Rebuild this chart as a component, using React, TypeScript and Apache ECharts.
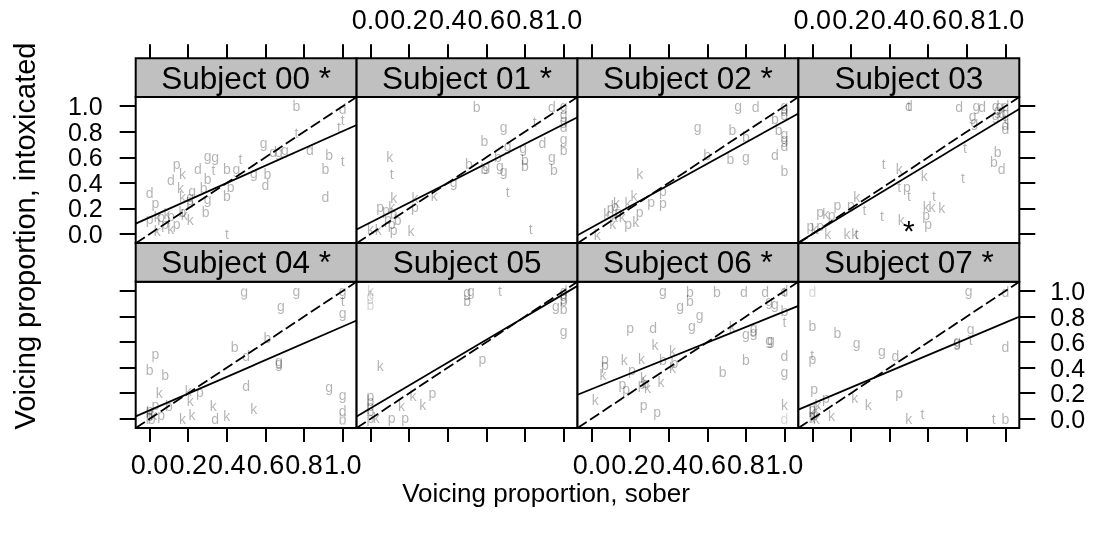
import React, { useEffect, useRef } from "react";
import * as echarts from "echarts";

type Pt = [number, number, string];

const subjectLabels = [
  "Subject 00 *", "Subject 01 *", "Subject 02 *", "Subject 03",
  "Subject 04 *", "Subject 05", "Subject 06 *", "Subject 07 *",
];
const tickValues = [0, 0.2, 0.4, 0.6, 0.8, 1.0];
const intercepts = [0.13, 0.09, 0.05, 0.0, 0.066, 0.083, 0.232, 0.117];
const slopes = [0.674, 0.768, 0.833, 0.913, 0.656, 0.893, 0.608, 0.636];
const xTitle = "Voicing proportion, sober";
const yTitle = "Voicing proportion, intoxicated";

const s00: Pt[] = [
  [0.76,1.00,"b"],[1.00,0.98,"d"],[1.00,0.89,"t"],[0.98,0.84,"t"],[0.76,0.79,"t"],[0.59,0.71,"g"],[0.64,0.64,"d"],[0.67,0.64,"g"],[0.70,0.66,"g"],[0.83,0.66,"d"],[0.93,0.62,"b"],[1.00,0.57,"t"],[0.91,0.51,"b"],[0.91,0.29,"d"],[0.47,0.59,"t"],[0.30,0.61,"g"],[0.34,0.60,"g"],[0.14,0.55,"p"],[0.17,0.47,"k"],[0.25,0.51,"d"],[0.33,0.50,"t"],[0.40,0.51,"b"],[0.45,0.51,"g"],[0.54,0.48,"g"],[0.61,0.47,"b"],[0.60,0.38,"d"],[0.30,0.43,"b"],[0.11,0.42,"d"],[0.16,0.36,"k"],[0.22,0.34,"g"],[0.28,0.36,"b"],[0.17,0.29,"k"],[0.21,0.29,"g"],[0.21,0.24,"b"],[0.42,0.37,"b"],[0.40,0.30,"b"],[0.30,0.27,"g"],[0.29,0.17,"b"],[0.00,0.32,"d"],[0.03,0.24,"p"],[0.00,0.12,"p"],[0.04,0.13,"k"],[0.06,0.13,"p"],[0.09,0.16,"k"],[0.11,0.14,"p"],[0.17,0.17,"b"],[0.14,0.08,"p"],[0.11,0.04,"k"],[0.04,0.02,"k"],[0.21,0.11,"k"],[0.18,0.15,"k"],[0.08,0.08,"p"],[0.40,0.00,"t"],
];
const s01: Pt[] = [
  [0.55,0.99,"b"],[0.94,0.99,"d"],[1.00,1.00,"g"],[1.00,0.94,"g"],[1.00,0.89,"g"],[1.00,0.84,"d"],[1.00,0.74,"g"],[1.00,0.66,"b"],[0.85,0.88,"t"],[0.69,0.84,"g"],[0.59,0.73,"b"],[0.71,0.69,"g"],[0.79,0.67,"g"],[0.89,0.71,"d"],[0.94,0.60,"g"],[0.95,0.50,"b"],[0.80,0.58,"b"],[0.80,0.53,"b"],[0.66,0.60,"b"],[0.51,0.55,"b"],[0.59,0.51,"b"],[0.60,0.53,"g"],[0.67,0.53,"g"],[0.69,0.49,"g"],[0.10,0.60,"k"],[0.11,0.47,"t"],[0.43,0.41,"g"],[0.71,0.33,"t"],[0.33,0.30,"k"],[0.23,0.28,"k"],[0.23,0.21,"p"],[0.12,0.28,"k"],[0.05,0.21,"p"],[0.08,0.19,"p"],[0.11,0.21,"k"],[0.12,0.16,"b"],[0.14,0.11,"b"],[0.09,0.12,"p"],[0.00,0.04,"k"],[0.04,0.03,"k"],[0.12,0.03,"p"],[0.21,0.02,"k"],[0.83,0.04,"t"],[0.11,0.08,"p"],
];
const s02: Pt[] = [
  [0.76,1.00,"g"],[0.85,0.99,"d"],[1.00,1.00,"g"],[1.00,0.96,"d"],[1.00,0.93,"d"],[0.95,0.90,"b"],[0.97,0.81,"b"],[1.00,0.78,"g"],[1.00,0.74,"g"],[1.00,0.69,"d"],[0.95,0.62,"d"],[1.00,0.49,"b"],[0.55,0.84,"g"],[0.73,0.81,"b"],[0.80,0.76,"b"],[0.60,0.62,"b"],[0.72,0.59,"b"],[0.80,0.60,"g"],[0.25,0.47,"k"],[0.37,0.34,"p"],[0.37,0.24,"p"],[0.31,0.25,"p"],[0.22,0.30,"k"],[0.19,0.24,"k"],[0.25,0.17,"p"],[0.23,0.09,"k"],[0.19,0.08,"p"],[0.13,0.24,"k"],[0.12,0.22,"b"],[0.08,0.16,"k"],[0.12,0.13,"k"],[0.14,0.17,"p"],[0.11,0.08,"k"],[0.16,0.13,"k"],[0.10,0.20,"p"],[0.03,-0.01,"k"],
];
const s03: Pt[] = [
  [0.50,1.00,"d"],[0.50,1.00,"t"],[0.76,0.99,"d"],[0.85,1.00,"g"],[0.88,0.99,"d"],[0.83,0.92,"g"],[0.84,0.88,"g"],[1.00,1.00,"d"],[0.97,1.00,"g"],[0.95,1.00,"d"],[1.00,0.95,"g"],[0.98,0.95,"d"],[0.95,0.93,"g"],[1.00,0.90,"t"],[1.00,0.85,"d"],[1.00,0.82,"d"],[0.96,0.97,"g"],[0.79,0.67,"t"],[0.96,0.64,"b"],[0.94,0.56,"b"],[0.98,0.51,"d"],[0.37,0.55,"t"],[0.45,0.51,"k"],[0.58,0.45,"k"],[0.78,0.44,"t"],[0.45,0.37,"t"],[0.49,0.37,"p"],[0.50,0.30,"t"],[0.63,0.30,"t"],[0.23,0.29,"k"],[0.13,0.23,"p"],[0.20,0.23,"p"],[0.27,0.19,"t"],[0.59,0.21,"k"],[0.62,0.21,"k"],[0.67,0.20,"k"],[0.36,0.14,"t"],[0.46,0.11,"k"],[0.59,0.15,"p"],[0.60,0.08,"p"],[0.04,0.17,"p"],[0.07,0.16,"k"],[0.10,0.15,"p"],[-0.01,0.06,"p"],[0.01,0.04,"k"],[0.04,0.06,"p"],[0.08,0.00,"k"],[0.18,0.00,"k"],[0.22,0.00,"k"],[0.23,0.00,"t"],
];
const s04: Pt[] = [
  [0.76,1.00,"g"],[1.00,1.00,"g"],[1.00,0.92,"t"],[1.00,0.83,"g"],[0.68,0.88,"g"],[0.61,0.63,"b"],[0.44,0.56,"b"],[0.50,0.49,"d"],[0.67,0.45,"g"],[0.67,0.44,"g"],[0.03,0.51,"p"],[0.00,0.38,"b"],[0.08,0.34,"b"],[0.50,0.26,"d"],[0.93,0.25,"g"],[1.00,0.19,"g"],[1.00,0.06,"d"],[0.05,0.20,"k"],[0.20,0.22,"k"],[0.26,0.21,"p"],[0.21,0.14,"k"],[0.33,0.10,"k"],[0.54,0.08,"k"],[0.22,0.03,"k"],[0.17,0.00,"k"],[0.34,0.00,"d"],[0.40,0.02,"k"],[0.03,0.11,"p"],[0.06,0.03,"p"],[0.10,0.10,"b"],[0.00,0.02,"p"],[0.00,0.05,"k"],[0.01,0.00,"b"],[0.00,0.07,"p"],[0.02,0.03,"k"],
];
const s05: Pt[] = [
  [0.50,0.99,"g"],[0.52,1.00,"g"],[0.50,0.92,"b"],[0.67,1.00,"t"],[1.00,1.00,"d"],[1.00,0.98,"d"],[1.00,0.96,"g"],[0.96,0.88,"g"],[1.00,0.86,"b"],[1.00,0.92,"b"],[1.00,0.69,"g"],[0.05,0.41,"k"],[0.58,0.47,"p"],[0.32,0.20,"p"],[0.22,0.18,"k"],[0.27,0.11,"k"],[0.16,0.10,"k"],[0.11,0.01,"p"],[0.18,0.01,"p"],[0.00,0.18,"p"],[0.00,0.14,"b"],[0.00,0.10,"p"],[0.00,0.06,"b"],[0.00,0.01,"p"],[0.03,0.01,"k"],
];
const s06: Pt[] = [
  [0.37,1.00,"g"],[0.51,0.99,"b"],[0.65,0.99,"b"],[0.79,0.99,"d"],[0.90,0.99,"d"],[1.00,1.00,"d"],[1.00,0.99,"t"],[0.92,0.92,"g"],[0.95,0.90,"g"],[1.00,0.84,"b"],[1.00,0.76,"t"],[0.46,0.88,"g"],[0.51,0.92,"b"],[0.56,0.81,"g"],[0.52,0.73,"g"],[0.20,0.71,"p"],[0.32,0.71,"d"],[0.73,0.72,"k"],[0.84,0.71,"g"],[0.80,0.66,"g"],[0.84,0.68,"g"],[0.93,0.62,"g"],[0.92,0.62,"g"],[0.33,0.58,"k"],[0.42,0.53,"k"],[1.00,0.49,"d"],[1.00,0.37,"g"],[0.80,0.46,"b"],[0.68,0.37,"b"],[0.07,0.47,"p"],[0.07,0.42,"p"],[0.17,0.46,"k"],[0.26,0.47,"k"],[0.37,0.46,"b"],[0.42,0.40,"k"],[0.43,0.44,"b"],[0.06,0.34,"k"],[0.21,0.38,"p"],[0.16,0.27,"p"],[0.18,0.23,"p"],[0.27,0.32,"k"],[0.28,0.28,"b"],[0.29,0.24,"k"],[0.26,0.27,"p"],[0.36,0.29,"k"],[0.02,0.15,"k"],[0.27,0.11,"p"],[0.34,0.05,"p"],[1.00,0.11,"k"],
];
const s07: Pt[] = [
  [0.00,0.73,"b"],[0.13,0.67,"b"],[0.23,0.59,"g"],[0.00,0.50,"t"],[0.00,0.47,"p"],[0.36,0.53,"g"],[0.43,0.49,"d"],[0.81,1.00,"g"],[1.00,0.99,"d"],[0.82,0.70,"g"],[0.75,0.60,"g"],[0.75,0.61,"g"],[0.82,0.62,"t"],[1.00,0.56,"d"],[0.01,0.23,"p"],[0.07,0.16,"p"],[0.03,0.11,"k"],[0.22,0.16,"k"],[0.29,0.11,"k"],[0.45,0.20,"p"],[0.10,0.02,"k"],[0.50,0.00,"k"],[0.57,0.04,"t"],[0.94,0.00,"t"],[1.00,0.00,"b"],[0.00,0.05,"k"],[0.01,0.03,"p"],[0.00,0.01,"k"],[0.02,0.07,"k"],[0.00,0.08,"p"],[0.02,0.00,"k"],
];
const faint00: Pt[] = [];
const faint01: Pt[] = [];
const faint02: Pt[] = [];
const faint03: Pt[] = [];
const faint04: Pt[] = [[0.49,1.00,"g"],[0.49,0.99,"g"],[1.00,-0.01,"d"],[1.00,0.00,"b"]];
const faint05: Pt[] = [[0.00,1.00,"k"],[0.00,0.98,"t"],[0.00,0.96,"g"],[0.00,0.89,"b"]];
const faint06: Pt[] = [[1.00,0.00,"d"]];
const faint07: Pt[] = [[0.00,0.99,"d"]];
const starMarks: [number, number][][] = [[], [], [], [[0.50, 0.09]], [], [], [], []];

const points = [s00, s01, s02, s03, s04, s05, s06, s07];
const faints = [faint00, faint01, faint02, faint03, faint04, faint05, faint06, faint07];

const AX_MIN = -0.072;
const AX_MAX = 1.072;
const PANEL_L = 135.7;
const PANEL_W = 220.9;
const PANEL_H = 146.2;
const STRIP_H = 38.8;
const ROW_TOP = [97, 281.8];
const FONT = "'Liberation Sans', Arial, Helvetica, sans-serif";

function letterSeries(i: number, pts: Pt[], alpha: number) {
  return {
    type: "custom",
    xAxisIndex: i,
    yAxisIndex: i,
    silent: true,
    z: 2,
    itemStyle: { color: "#000" },
    data: pts.map((p) => [p[0], p[1]]),
    renderItem: (params: any, api: any) => {
      const c = api.coord([api.value(0), api.value(1)]);
      return {
        type: "text",
        x: c[0],
        y: c[1],
        style: {
          text: pts[params.dataIndex][2],
          fill: "#000000",
          opacity: alpha,
          fontSize: 14,
          fontFamily: FONT,
          align: "center",
          verticalAlign: "middle",
        },
      };
    },
  };
}

export default function App() {
  const ref = useRef<HTMLDivElement>(null);
  useEffect(() => {
    if (!ref.current) return;
    const chart = echarts.init(ref.current, undefined, { renderer: "svg" });
    const grids: any[] = [];
    const xAxes: any[] = [];
    const yAxes: any[] = [];
    const series: any[] = [];
    const graphics: any[] = [];
    const fmt = (v: number) => v.toFixed(1);

    for (let i = 0; i < 8; i++) {
      const row = i < 4 ? 0 : 1;
      const col = i % 4;
      const left = PANEL_L + col * PANEL_W;
      const top = ROW_TOP[row];
      grids.push({
        left, top, width: PANEL_W, height: PANEL_H,
        show: true, borderColor: "#000", borderWidth: 2, backgroundColor: "#fff",
        containLabel: false, outerBoundsMode: "none",
      });
      xAxes.push({
        type: "value", gridIndex: i, min: AX_MIN, max: AX_MAX,
        position: row === 0 ? "top" : "bottom",
        offset: row === 0 ? STRIP_H : 0,
        axisLine: { show: false, onZero: false },
        splitLine: { show: false },
        axisTick: { show: true, length: 14, customValues: tickValues, lineStyle: { color: "#000", width: 2 } },
        axisLabel: {
          show: row === 0 ? col % 2 === 1 : col % 2 === 0,
          customValues: tickValues, formatter: fmt,
          showMinLabel: true, showMaxLabel: true, hideOverlap: false,
          margin: row === 0 ? 25 : 23, fontSize: 27, color: "#000", fontFamily: FONT,
        },
      });
      const yShow = col === 0 || col === 3;
      yAxes.push({
        type: "value", gridIndex: i, min: AX_MIN, max: AX_MAX,
        show: yShow,
        position: col === 3 ? "right" : "left",
        axisLine: { show: false, onZero: false },
        splitLine: { show: false },
        axisTick: { show: yShow, length: 16, customValues: tickValues, lineStyle: { color: "#000", width: 2 } },
        axisLabel: {
          show: (col === 0 && row === 0) || (col === 3 && row === 1),
          customValues: tickValues, formatter: fmt,
          showMinLabel: true, showMaxLabel: true, hideOverlap: false,
          lineHeight: 20,
          margin: col === 0 ? 33 : 31, fontSize: 25, color: "#000", fontFamily: FONT,
        },
      });
      series.push(letterSeries(i, points[i], 0.3));
      if (faints[i].length) series.push(letterSeries(i, faints[i], 0.16));
      series.push({
        type: "line", xAxisIndex: i, yAxisIndex: i, symbol: "none", silent: true, z: 3,
        data: [[AX_MIN, AX_MIN], [AX_MAX, AX_MAX]],
        lineStyle: { color: "#000", width: 1.8, type: [11, 4] },
      });
      series.push({
        type: "line", xAxisIndex: i, yAxisIndex: i, symbol: "none", silent: true, z: 3,
        data: [
          [AX_MIN, intercepts[i] + slopes[i] * AX_MIN],
          [AX_MAX, intercepts[i] + slopes[i] * AX_MAX],
        ],
        lineStyle: { color: "#000", width: 1.8 },
      });
      if (starMarks[i].length) {
        const marks = starMarks[i];
        series.push({
          type: "custom", xAxisIndex: i, yAxisIndex: i, silent: true, z: 4,
          itemStyle: { color: "#000" },
          data: marks,
          renderItem: (_p: any, api: any) => {
            const c = api.coord([api.value(0), api.value(1)]);
            return {
              type: "text", x: c[0], y: c[1] + 8,
              style: { text: "*", fill: "#000", fontSize: 30, fontFamily: FONT, align: "center", verticalAlign: "middle" },
            };
          },
        });
      }
      graphics.push({
        type: "rect",
        shape: { x: left, y: top - STRIP_H, width: PANEL_W, height: STRIP_H },
        style: { fill: "#c0c0c0", stroke: "#000", lineWidth: 2 },
        z: 10,
      });
      graphics.push({
        type: "text",
        x: left + PANEL_W / 2,
        y: top - STRIP_H / 2,
        style: { text: subjectLabels[i], fontSize: 31.5, fontFamily: FONT, fill: "#000", align: "center", verticalAlign: "middle" },
        z: 11,
      });
    }
    graphics.push({
      type: "text", x: 546, y: 493,
      style: { text: xTitle, fontSize: 26, fontFamily: FONT, fill: "#000", align: "center", verticalAlign: "middle" },
    });
    graphics.push({
      type: "text", x: 25, y: 236, rotation: Math.PI / 2,
      style: { text: yTitle, fontSize: 29, fontFamily: FONT, fill: "#000", align: "center", verticalAlign: "middle" },
    });

    chart.setOption({
      animation: false,
      backgroundColor: "#fff",
      grid: grids,
      xAxis: xAxes,
      yAxis: yAxes,
      series,
      graphic: graphics,
    });
    return () => chart.dispose();
  }, []);
  return (
    <div
      ref={ref}
      style={{ position: "absolute", left: 0, top: 0, width: 1094, height: 540, filter: "grayscale(1)" }}
    />
  );
}
